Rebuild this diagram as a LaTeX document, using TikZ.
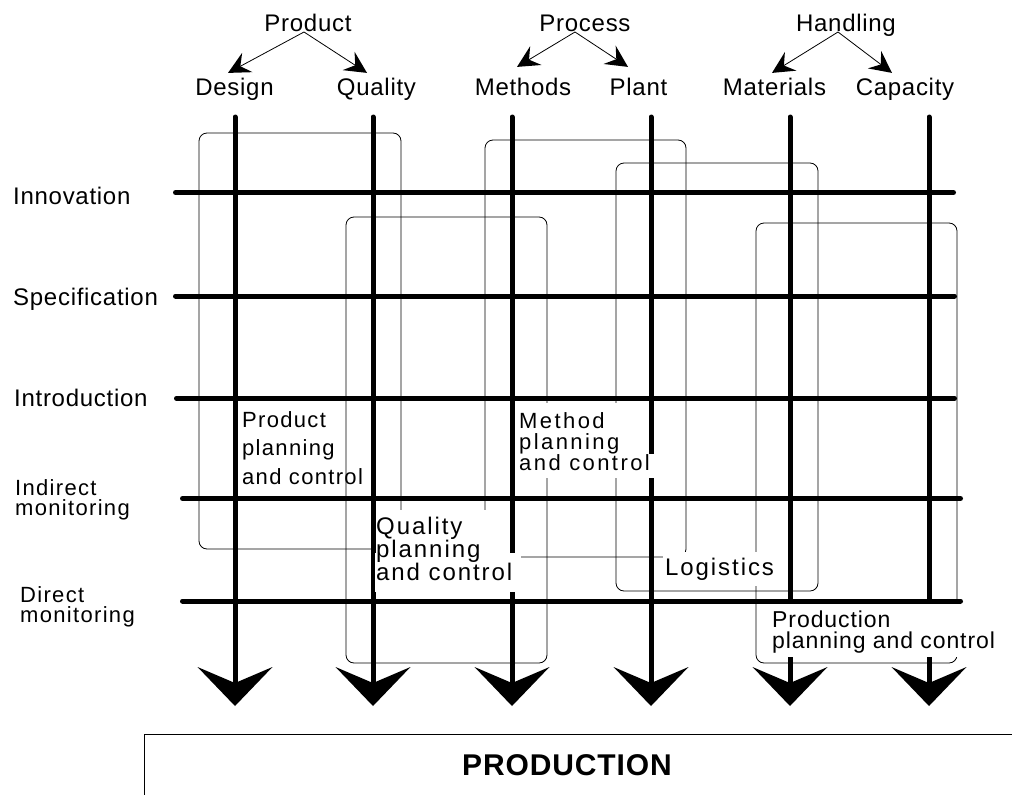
\documentclass[tikz,border=0pt]{standalone}
\usepackage{fontspec}
\setmainfont{Liberation Sans}
\newfontfamily\famA[LetterSpace=3]{Liberation Sans}
\newfontfamily\famB[LetterSpace=6]{Liberation Sans}
\newfontfamily\famC[LetterSpace=8]{Liberation Sans}
\newfontfamily\famD[LetterSpace=4]{Liberation Sans}
\newfontfamily\famE[LetterSpace=3]{Liberation Sans}
\newfontfamily\famF[LetterSpace=11]{Liberation Sans}
\usetikzlibrary{arrows.meta,calc}

\tikzset{
  stage/.style={line width=5pt, line cap=round},
  flow/.style={line width=5pt, line cap=round,
    -{Stealth[length=39pt,width=75pt,inset=16pt,line width=0pt]}},
  frame/.style={draw=black, line width=0.8pt, rounded corners=8pt},
  backing/.style={fill=white, draw=none, inner sep=0pt, anchor=north west},
  hdr/.style={font=\famA\fontsize{24}{26}\selectfont, inner sep=0pt, anchor=base},
  rowlab/.style={font=\famA\fontsize{24}{26}\selectfont, inner sep=0pt, anchor=base west},
  rowlabtwo/.style={font=\famB\fontsize{22}{20}\selectfont, inner sep=0pt, anchor=north west, align=left},
  split/.style={line width=0.8pt, -{Stealth[length=22pt,width=22pt,inset=8pt,line width=0pt]}},
  grp/.style={inner sep=0pt, anchor=north west, align=left},
}

\begin{document}
\begin{tikzpicture}[x=1pt,y=-1pt]
\useasboundingbox (0,0) rectangle (1012,795);
\clip (0,0) rectangle (1012,795);

% ---- header: categories and their two aspects
\node[hdr] (product)   at (308,31)   {Product};
\node[hdr] (process)   at (585,31)   {Process};
\node[hdr] (handling)  at (846,31)   {Handling};
\node[hdr] (design)    at (234.5,95.5) {Design};
\node[hdr] (quality)   at (376.5,95.5) {Quality};
\node[hdr] (methods)   at (523,95.5)   {Methods};
\node[hdr] (plant)     at (638.5,95.5) {Plant};
\node[hdr] (materials) at (774.5,95.5) {Materials};
\node[hdr] (capacity)  at (905,95.5)   {Capacity};

\draw[split] ($(product.base)+(-4,1)$)   -- ($(design.north)+(-6.5,-5)$);
\draw[split] ($(product.base)+(-4,1)$)   -- ($(quality.north)+(-9.5,-5)$);
\draw[split] ($(process.base)+(-10,1)$)  -- ($(methods.north)+(-6,-11)$);
\draw[split] ($(process.base)+(-10,1)$)  -- ($(plant.north)+(-10.5,-11)$);
\draw[split] ($(handling.base)+(-8,1)$)  -- ($(materials.north)+(-2.5,-5)$);
\draw[split] ($(handling.base)+(-8,1)$)  -- ($(capacity.north)+(-13,-5)$);

% ---- row labels (life-cycle stages)
\node[rowlab] (innovation) at (13,204)   {Innovation};
\node[rowlab] (specification) at (13,305) {Specification};
\node[rowlab] (introduction) at (14,406.5) {Introduction};
\node[rowlabtwo] (indirect) at (15,479.2) {Indirect\\monitoring};
\node[rowlabtwo] (direct)   at (20,586.2) {Direct\\monitoring};

% ---- planning-and-control groups
\draw[frame] (199,133) rectangle (401,549);
\draw[frame] (346,217) rectangle (547,663);
\draw[frame] (485,140) rectangle (686,557);
\draw[frame] (616,163) rectangle (818,591);
\draw[frame] (756,223) rectangle (957,663);

% white ground under the upper part of two group labels
\node[backing, minimum width=143pt, minimum height=51pt] (methodbg)  at (515,403) {};
\node[backing, minimum width=146pt, minimum height=43pt] (qualitybg) at (375,510) {};

% ---- stage lines
\coordinate (r1w) at (175.5,192.5); \coordinate (r1e) at (953.5,192.5);
\coordinate (r2w) at (175.5,296);   \coordinate (r2e) at (954.5,296);
\coordinate (r3w) at (176.5,398.3); \coordinate (r3e) at (954.5,398.3);
\coordinate (r4w) at (182.5,498.5); \coordinate (r4e) at (960.5,498.5);
\coordinate (r5w) at (182.5,601);   \coordinate (r5e) at (960.5,601);
\foreach \r in {1,...,5} \draw[stage] (r\r w) -- (r\r e);

% ---- aspect columns flowing into production
\foreach \n/\x in {1/235,2/373,3/512,4/651,5/790,6/929}{
  \coordinate (c\n t) at (\x,117);
  \coordinate (c\n b) at (\x,706);
  \draw[flow] (c\n t) -- (c\n b);
}

% white ground over the lower part of the group labels
\node[backing, minimum width=143pt, minimum height=24pt] (methodbg2)  at (515,454) {};
\node[backing, minimum width=146pt, minimum height=39pt] (qualitybg2) at (375,553) {};
\node[backing, minimum width=117pt, minimum height=34pt] (logbg)  at (663,552) {};
\node[backing, minimum width=232pt, minimum height=53pt] (prodbg) at (769,604) {};

% ---- group labels
\node[grp, font=\famB\fontsize{22}{28.5}\selectfont] (productpc) at (242,411.2)
  {Product\\planning\\and control};
\node[grp, font=\famF\fontsize{22}{21}\selectfont] (methodpc) at (519,412.2)
  {Method\\planning\\and control};
\node[grp, font=\famC\fontsize{24}{23}\selectfont] (qualitypc) at (376,516.7)
  {Quality\\planning\\and control};
\node[inner sep=0pt, anchor=base west, font=\famC\fontsize{24}{26}\selectfont] (logistics) at (665,575)
  {Logistics};
\node[grp, font=\famD\fontsize{23}{21.5}\selectfont] (productionpc) at (772,610.4)
  {Production\\planning and control};

% ---- production
\draw[line width=0.9pt] (1013,734) -- (144,734) -- (144,796);
\node[inner sep=0pt, anchor=base, font=\famE\bfseries\fontsize{30}{32}\selectfont] (production) at (567,775)
  {PRODUCTION};
\end{tikzpicture}
\end{document}
